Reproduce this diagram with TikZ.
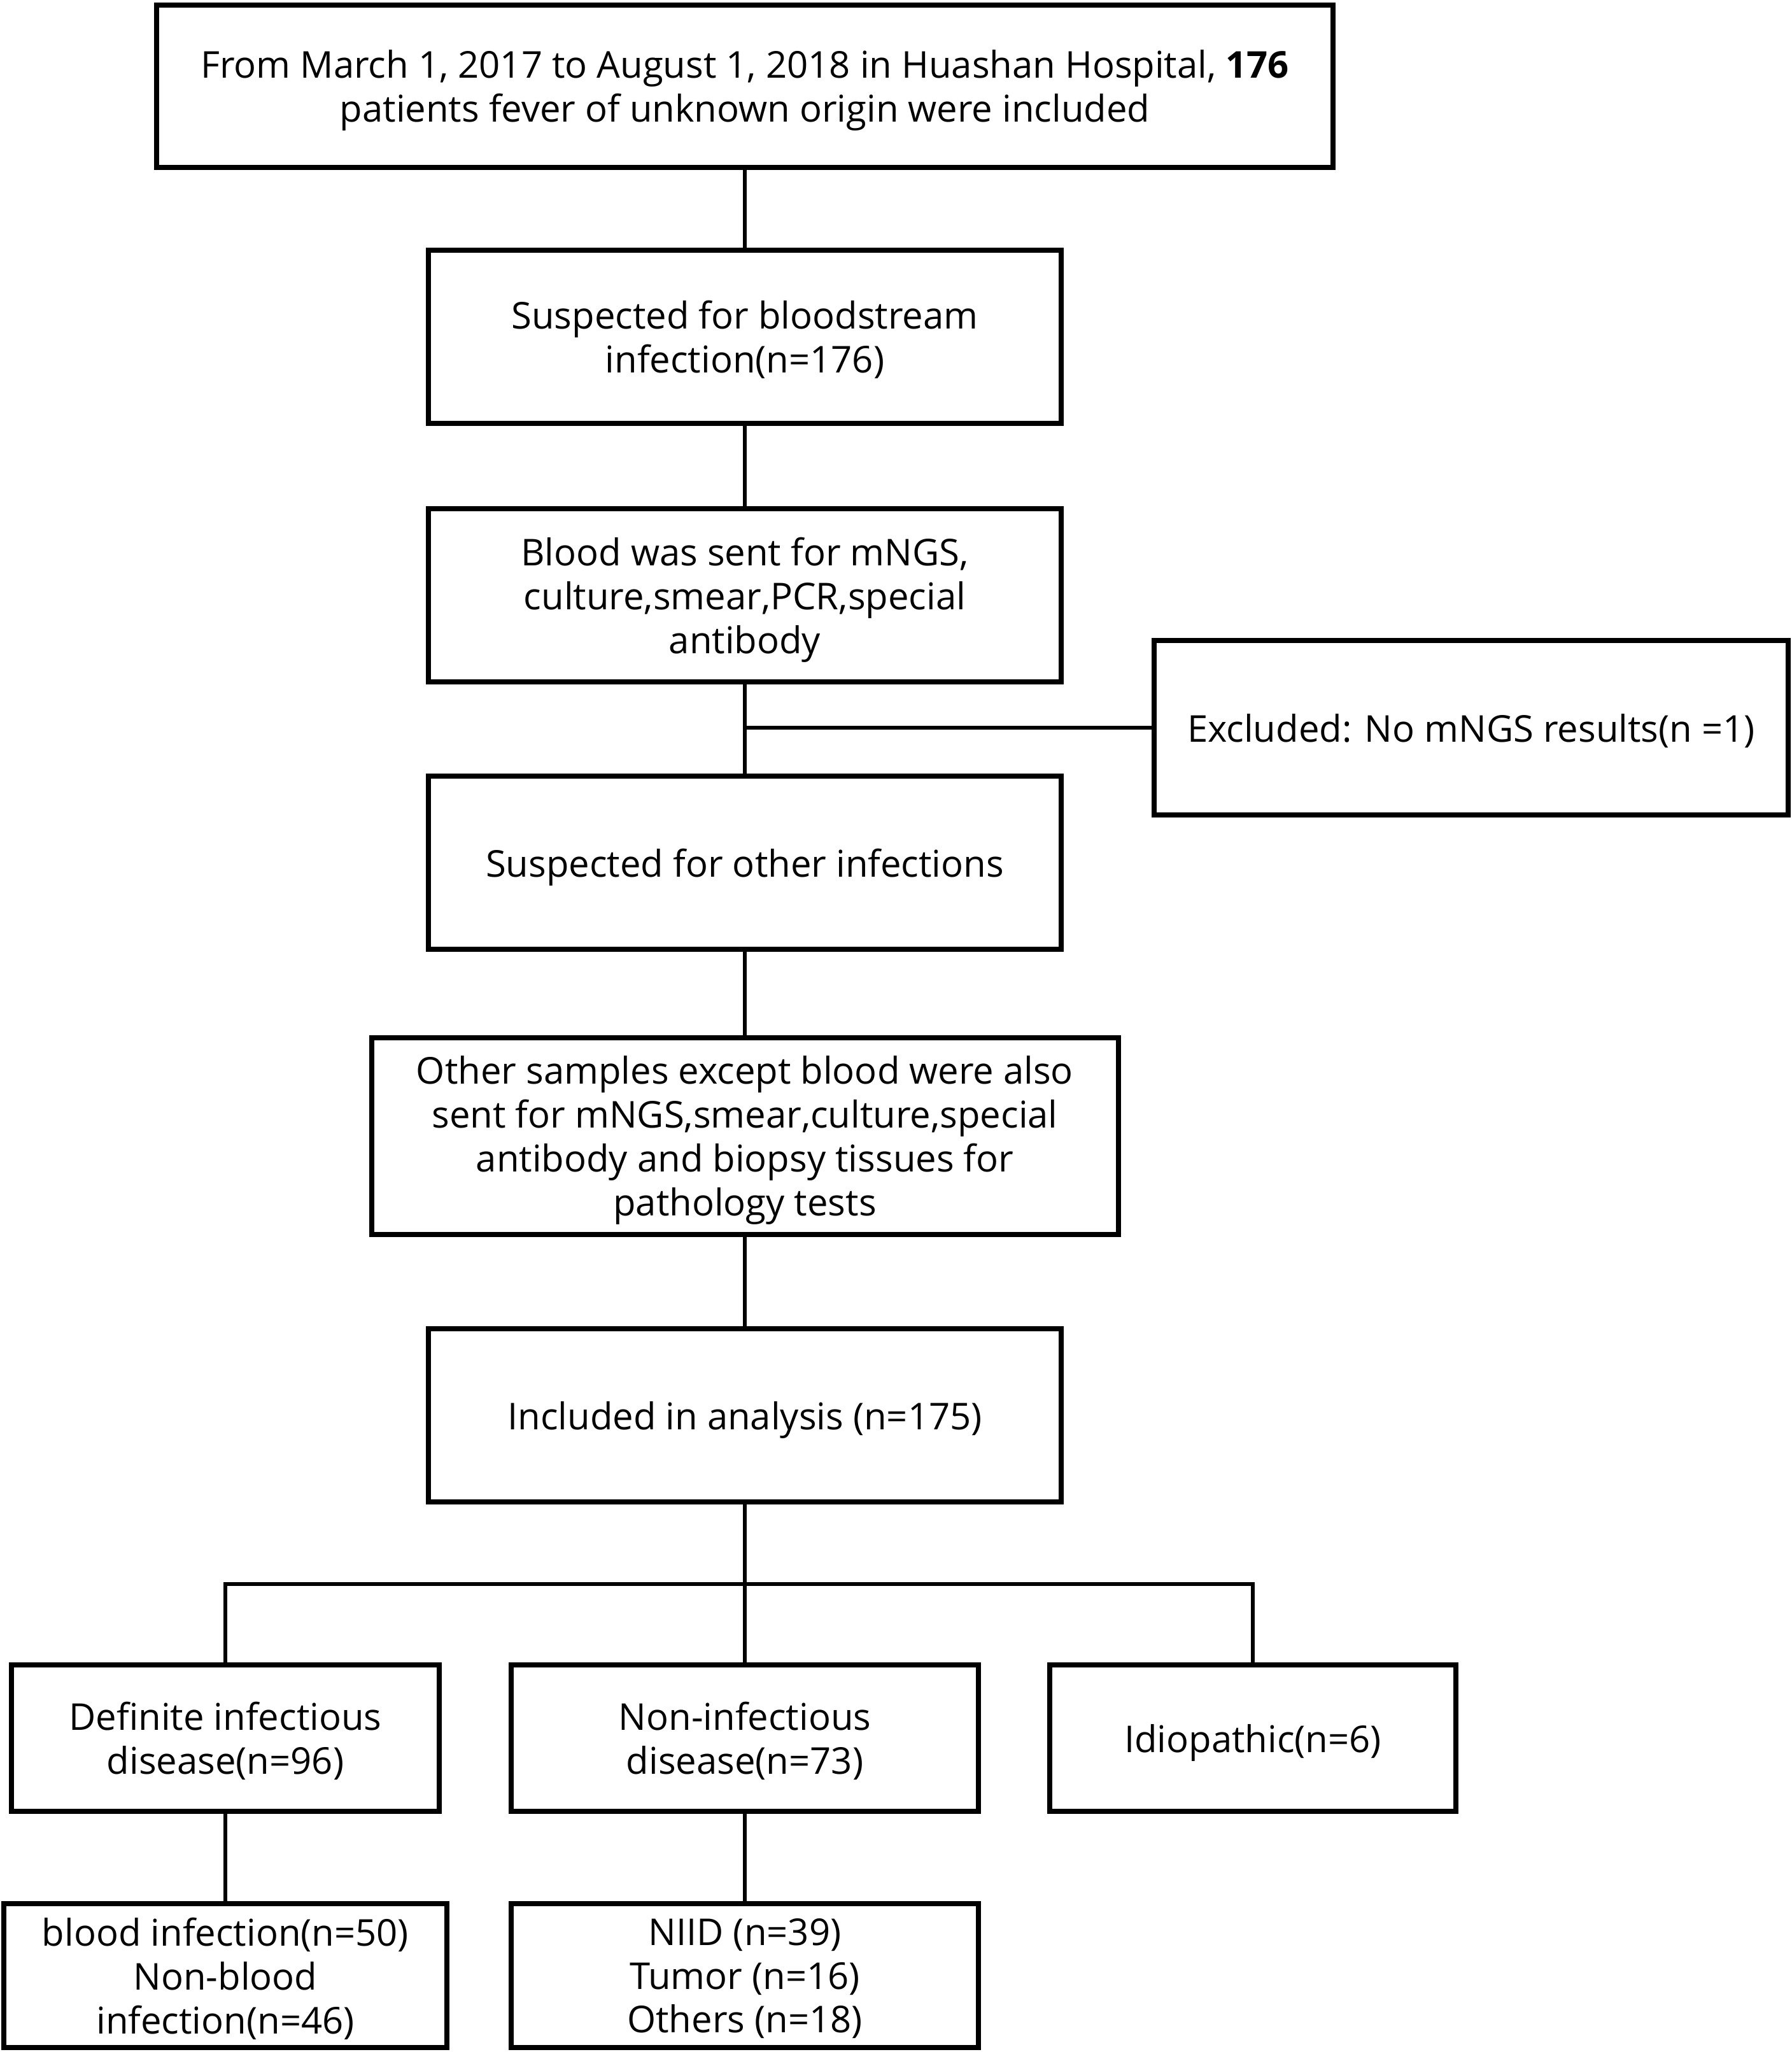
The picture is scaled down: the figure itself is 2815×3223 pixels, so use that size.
\documentclass[tikz,border=0pt]{standalone}
\usepackage{fontspec}
\setmainfont{Open Sans}
\begin{document}
\begin{tikzpicture}[x=0.25pt,y=-0.25pt,
  box/.style={draw,line width=2pt,align=center,inner sep=0pt,text depth=-1pt,font=\fontsize{14.5}{17.2}\selectfont},
  midbox/.style={box,minimum width=248.5pt,minimum height=68pt},
  lowbox/.style={box,minimum height=57.5pt},
  conn/.style={line width=1.5pt}]
  \useasboundingbox (0,0) rectangle (2815,3223);
  \node[box,minimum width=462pt,minimum height=63.75pt] (start) at (1170,135) {From March 1, 2017 to August 1, 2018 in Huashan Hospital, \textbf{176}\\patients fever of unknown origin were included};
  \node[midbox] (suspblood) at (1170,529) {Suspected for bloodstream\\infection(n=176)};
  \node[midbox] (bloodsent) at (1170,935) {Blood was sent for mNGS,\\culture,smear,PCR,special\\antibody};
  \node[box,minimum width=249pt,minimum height=68.5pt] (excluded) at (2311,1143) {Excluded: No mNGS results(n =1)};
  \node[midbox] (suspother) at (1170,1355) {Suspected for other infections};
  \node[box,minimum width=293.25pt,minimum height=77.25pt] (samples) at (1170,1784) {Other samples except blood were also\\sent for mNGS,smear,culture,special\\antibody and biopsy tissues for\\pathology tests};
  \node[midbox] (included) at (1170,2223) {Included in analysis (n=175)};
  \node[lowbox,minimum width=168pt] (definite) at (354,2730) {Definite infectious\\disease(n=96)};
  \node[lowbox,minimum width=183.5pt] (noninf) at (1170,2730) {Non-infectious\\disease(n=73)};
  \node[lowbox,minimum width=159.5pt] (idio) at (1968,2730) {Idiopathic(n=6)};
  \node[box,minimum width=174pt,minimum height=56.5pt] (bloodinf) at (354,3103) {blood infection(n=50)\\Non-blood\\infection(n=46)};
  \node[box,minimum width=183.5pt,minimum height=56.5pt] (niid) at (1170,3103) {NIID (n=39)\\Tumor (n=16)\\Others (n=18)};
  \coordinate (exjoin) at (bloodsent.south |- excluded.west);
  \coordinate (split) at (1170,2488);
  \draw[conn] (start) -- (suspblood);
  \draw[conn] (suspblood) -- (bloodsent);
  \draw[conn] (bloodsent) -- (suspother);
  \draw[conn] (exjoin) -- (excluded.west);
  \draw[conn] (suspother) -- (samples);
  \draw[conn] (samples) -- (included);
  \draw[conn] (included) -- (split);
  \draw[conn] (definite.north) -- (definite.north |- split) -- (idio.north |- split) -- (idio.north);
  \draw[conn] (split) -- (noninf);
  \draw[conn] (definite) -- (bloodinf);
  \draw[conn] (noninf) -- (niid);
\end{tikzpicture}
\end{document}
